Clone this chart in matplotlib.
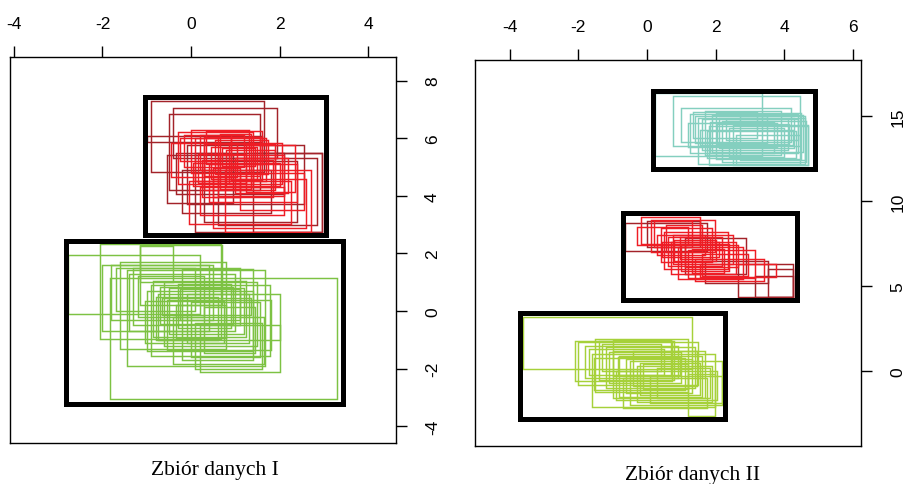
from matplotlib import pyplot as plt
from matplotlib.patches import Rectangle

# rectangles as (x0, x1, y0, y1)

# zbior I - red cluster
red1_dark = [(-0.90, 1.66, 4.81, 7.30), (-0.40, 1.95, 5.30, 7.05), (-0.50, 1.57, 4.20, 6.84),
             (-1.00, 1.60, 5.88, 6.08), (-0.55, 0.95, 3.75, 5.40), (-0.10, 2.55, 3.72, 5.75),
             (0.10, 2.96, 2.73, 5.50), (-0.35, 2.10, 4.06, 5.50), (0.30, 2.40, 3.10, 5.20),
             (-0.20, 1.80, 3.40, 4.90), (0.60, 2.85, 3.00, 5.30), (1.40, 2.96, 2.73, 5.50)]
red1 = [(0.77, 2.70, 2.73, 4.88), (-0.05, 2.27, 3.02, 4.52), (0.20, 2.10, 3.35, 4.30),
        (0.50, 2.60, 2.90, 4.60), (-0.30, 1.40, 4.40, 6.20), (0.00, 1.30, 4.80, 6.30),
        (0.10, 1.70, 4.50, 6.00), (0.30, 1.90, 4.20, 5.80), (0.45, 1.50, 4.60, 5.70),
        (-0.15, 1.20, 5.00, 6.10), (0.60, 2.10, 4.00, 5.40), (0.80, 1.90, 4.30, 5.60),
        (0.20, 0.90, 4.90, 6.10), (0.35, 1.60, 5.10, 6.25), (1.00, 2.20, 4.10, 5.30),
        (0.15, 1.25, 4.45, 5.45), (0.55, 1.75, 4.75, 5.95), (0.70, 1.45, 5.05, 5.65),
        (-0.45, 1.05, 4.65, 5.85), (0.40, 2.40, 3.80, 5.10), (1.10, 2.55, 3.50, 4.80),
        (0.25, 1.85, 3.95, 5.25), (0.90, 1.60, 4.55, 6.05), (0.05, 2.00, 4.35, 5.15),
        (0.65, 1.35, 4.25, 6.15), (-0.25, 0.60, 5.20, 6.00), (1.25, 2.35, 4.15, 5.75),
        (0.50, 1.10, 3.95, 4.95), (0.30, 1.55, 4.70, 6.05), (0.85, 2.05, 4.40, 5.85)]
red1_box = (-1.05, 3.05, 2.65, 7.42)

# zbior I - green cluster
green1 = [(-2.78, 0.20, -0.10, 1.94), (-2.05, 0.67, -0.96, 2.34), (-1.83, 3.30, -3.05, 1.14),
          (-1.15, -0.40, 1.00, 2.25), (-1.30, 1.11, -0.50, 1.50), (-1.45, 1.67, -1.90, 1.41),
          (0.20, 2.02, -2.12, -0.50), (-0.75, 2.01, -1.00, 0.60), (-1.60, 0.80, -1.30, 1.70),
          (-0.20, 1.41, -1.70, 1.45), (-1.80, 0.50, -0.30, 1.60), (-0.90, 1.78, -1.55, 0.90),
          (-0.60, 1.50, -1.20, 1.00), (-0.50, 1.20, -0.80, 0.80), (-1.00, 1.40, -1.40, 0.70),
          (-0.30, 0.90, -0.60, 0.95), (-0.80, 0.60, -1.00, 0.50), (0.00, 1.55, -1.60, 0.30),
          (-1.20, 0.30, -0.20, 1.20), (-0.40, 1.65, -1.85, -0.20), (-1.40, 1.00, -0.70, 1.30),
          (-0.10, 1.30, -1.10, 0.60), (-0.70, 0.95, -0.45, 0.85), (-1.70, 0.10, 0.00, 1.50),
          (-0.55, 1.80, -1.35, 0.40), (0.30, 1.45, -1.45, 0.15), (-1.05, 0.75, -1.10, 0.35),
          (-0.25, 1.10, -0.30, 0.75), (-2.00, 0.40, -0.70, 1.60), (0.10, 1.60, -2.00, -0.40),
          (-0.85, 1.25, -0.90, 1.05), (-1.15, 0.70, 0.20, 2.30), (-0.65, 1.35, -0.15, 0.45),
          (-0.35, 0.80, -0.95, 0.20)]
green1_box = (-2.82, 3.43, -3.23, 2.43)

# zbior II - teal cluster
teal2 = [(0.23, 3.35, 12.65, 16.35), (0.76, 4.46, 13.25, 16.20), (1.00, 4.20, 13.50, 15.50),
         (1.25, 4.40, 12.80, 15.10), (1.50, 4.60, 12.20, 14.90), (1.20, 3.80, 13.20, 14.60),
         (1.80, 4.70, 12.10, 14.40), (2.00, 4.50, 12.50, 15.20), (1.60, 4.10, 13.00, 14.80),
         (2.20, 4.65, 12.30, 14.70), (1.70, 3.90, 12.70, 15.30), (2.50, 4.70, 12.15, 14.50),
         (1.40, 3.50, 13.40, 15.00), (2.10, 4.30, 13.10, 14.90), (1.90, 4.55, 12.90, 15.05),
         (2.40, 4.00, 12.60, 14.30), (1.55, 4.25, 13.30, 14.20), (2.70, 4.60, 12.40, 15.00),
         (1.85, 3.70, 12.85, 14.65), (2.30, 4.40, 13.60, 14.85), (2.60, 4.45, 12.20, 13.90),
         (1.35, 3.20, 13.70, 15.25), (2.05, 4.15, 13.35, 14.55), (1.75, 4.35, 12.55, 14.10)]
teal2_box = (0.17, 4.90, 11.90, 16.50)

# zbior II - red cluster
red2_dark = [(-0.64, 1.75, 7.06, 8.70), (2.65, 4.26, 4.35, 6.31), (3.14, 4.26, 4.35, 5.60),
             (3.53, 4.26, 4.35, 6.00), (0.00, 1.54, 7.30, 8.80), (1.70, 3.53, 5.20, 6.50),
             (1.10, 2.90, 5.70, 7.80)]
red2 = [(-0.17, 1.54, 7.50, 9.06), (0.13, 1.97, 7.00, 8.90), (1.54, 3.77, 5.53, 6.31),
        (0.50, 2.36, 6.00, 8.20), (0.70, 2.60, 5.70, 7.60), (0.40, 1.90, 6.40, 8.40),
        (0.90, 2.80, 5.40, 7.30), (0.60, 2.20, 6.20, 7.90), (1.00, 2.40, 5.90, 7.50),
        (0.30, 1.70, 6.80, 8.00), (1.20, 3.14, 5.50, 7.10), (0.80, 2.00, 6.50, 7.70),
        (1.10, 2.65, 6.10, 7.40), (0.55, 1.60, 7.00, 8.60), (1.40, 3.40, 5.30, 6.60),
        (0.75, 2.50, 6.30, 8.00), (0.95, 1.85, 6.60, 7.90), (1.30, 2.25, 5.80, 7.20),
        (0.20, 1.30, 7.30, 8.80), (1.60, 2.95, 5.60, 6.90), (0.45, 2.10, 6.70, 7.60),
        (-0.30, 1.20, 7.40, 8.50)]
red2_box = (-0.70, 4.37, 4.20, 9.30)

# zbior II - green cluster
green2 = [(-3.60, 1.30, 0.14, 3.18), (-2.10, 0.72, -0.60, 1.80), (1.20, 1.98, -2.61, -0.16),
          (-1.60, 1.98, -2.12, 1.00), (-2.00, 1.50, -0.80, 1.70), (-1.50, 1.20, -1.20, 1.90),
          (-1.80, 0.90, -0.40, 1.50), (-1.00, 1.70, -1.60, 1.20), (-0.50, 2.18, -2.00, 0.60),
          (-1.20, 1.40, -1.00, 1.40), (-0.80, 1.60, -1.50, 0.90), (-1.40, 0.80, -0.50, 1.75),
          (-0.30, 1.90, -1.80, 0.30), (-1.70, 0.50, -0.20, 1.30), (-0.60, 1.30, -1.30, 0.70),
          (-1.10, 1.00, -0.70, 1.10), (-0.20, 1.55, -1.40, 0.50), (-0.90, 2.05, -1.70, 0.00),
          (-1.30, 0.40, 0.00, 1.60), (-0.70, 1.75, -2.15, -0.40), (0.10, 2.18, -1.90, -0.30),
          (-1.55, 1.10, -1.10, 0.80), (-0.40, 1.45, -0.90, 1.20), (-1.00, 0.70, -0.30, 1.85),
          (0.30, 1.85, -1.55, 0.20), (-0.10, 1.20, -1.05, 0.40), (-0.85, 0.95, -0.20, 0.85)]
green2_box = (-3.70, 2.27, -2.80, 3.40)

titles = ["Zbiór danych I", "Zbiór danych II"]

RED = '#ee1d25'
DARK_RED = '#a3232a'


def draw_rects(ax, rects, color, lw=1.05):
    for x0, x1, y0, y1 in rects:
        ax.add_patch(Rectangle((x0, y0), x1 - x0, y1 - y0, fill=False,
                               edgecolor=color, linewidth=lw))


def style_axes(ax, xlim, ylim, xticks, yticks):
    ax.set_xlim(*xlim)
    ax.set_ylim(*ylim)
    ax.set_xticks(xticks)
    ax.set_yticks(yticks)
    ax.tick_params(axis='both', direction='out', length=8, width=1,
                   labelsize=12.5, top=True, bottom=False, left=False, right=True,
                   labeltop=True, labelbottom=False, labelleft=False, labelright=True)
    ax.tick_params(axis='x', pad=11)
    ax.tick_params(axis='y', pad=13, labelrotation=90)
    for lab in ax.get_yticklabels():
        lab.set_verticalalignment('center')
    for s in ax.spines.values():
        s.set_linewidth(1.0)


plt.rcParams['font.family'] = ['Liberation Sans', 'DejaVu Sans']
plt.rcParams['axes.unicode_minus'] = False
fig = plt.figure(figsize=(9.05, 4.85), dpi=100)

ax1 = fig.add_axes([0.011, 0.0845, 0.4265, 0.796])
draw_rects(ax1, red1_dark, DARK_RED)
draw_rects(ax1, red1, RED)
draw_rects(ax1, green1, '#7dc243')
draw_rects(ax1, [red1_box, green1_box], 'black', lw=3.6)
style_axes(ax1, (-4.09, 4.63), (-4.58, 8.82), [-4, -2, 0, 2, 4], [-4, -2, 0, 2, 4, 6, 8])

ax2 = fig.add_axes([0.5249, 0.0784, 0.4265, 0.796])
draw_rects(ax2, teal2, '#84cfbf')
draw_rects(ax2, red2_dark, DARK_RED)
draw_rects(ax2, red2, RED)
draw_rects(ax2, green2, '#a6d13a')
draw_rects(ax2, [teal2_box, red2_box, green2_box], 'black', lw=3.6)
style_axes(ax2, (-5.01, 6.24), (-4.4, 18.3), [-4, -2, 0, 2, 4, 6], [0, 5, 10, 15])

fig.text(0.2375, 1 - 471 / 485, titles[0], ha='center', va='center',
         family=['Liberation Serif', 'DejaVu Serif'], fontsize=15.5)
fig.text(0.7657, 1 - 476 / 485, titles[1], ha='center', va='center',
         family=['Liberation Serif', 'DejaVu Serif'], fontsize=15.5)

fig.savefig('out.png', dpi=100)
